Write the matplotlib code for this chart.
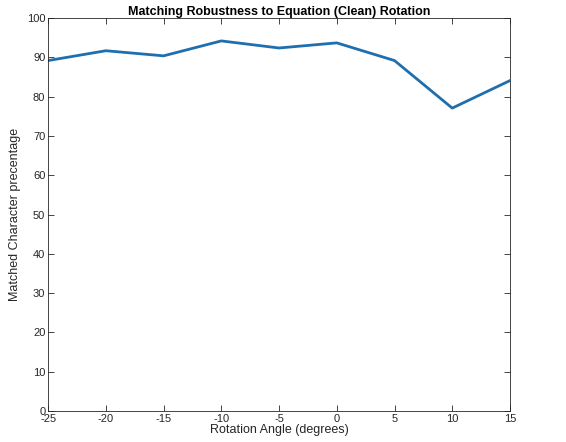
import matplotlib
matplotlib.use("Agg")
import matplotlib.pyplot as plt

# Datos
angles = [-25, -20, -15, -10, -5, 0, 5, 10, 15]
matched_pct = [89.2, 91.7, 90.4, 94.2, 92.4, 93.7, 89.2, 77.1, 84.1]

x_ticks = [-25, -20, -15, -10, -5, 0, 5, 10, 15]
y_ticks = [0, 10, 20, 30, 40, 50, 60, 70, 80, 90, 100]

plt.rcParams['font.family'] = ['Liberation Sans', 'DejaVu Sans']
plt.rcParams['axes.unicode_minus'] = False

fig = plt.figure(figsize=(5.66, 4.42), dpi=100)
ax = fig.add_axes([0.085, 0.070, 0.816, 0.889])

ax.plot(angles, matched_pct, color='#1f6fae', linewidth=2)

ax.set_xlim(-25, 15)
ax.set_ylim(0, 100)
ax.set_xticks(x_ticks)
ax.set_yticks(y_ticks)
ax.tick_params(direction='in', top=True, right=True, labelsize=8, length=4,
               width=0.6, colors='#262626', pad=2)
for s in ax.spines.values():
    s.set_linewidth(0.6)
    s.set_color('#262626')

ax.set_xlabel('Rotation Angle (degrees)', fontsize=9, labelpad=0, color='#262626')
ax.set_ylabel('Matched Character precentage', fontsize=9, labelpad=4, color='#262626')
ax.set_title('Matching Robustness to Equation (Clean) Rotation', fontsize=9,
             fontweight='bold', pad=2)

fig.savefig('out.png', dpi=100)
